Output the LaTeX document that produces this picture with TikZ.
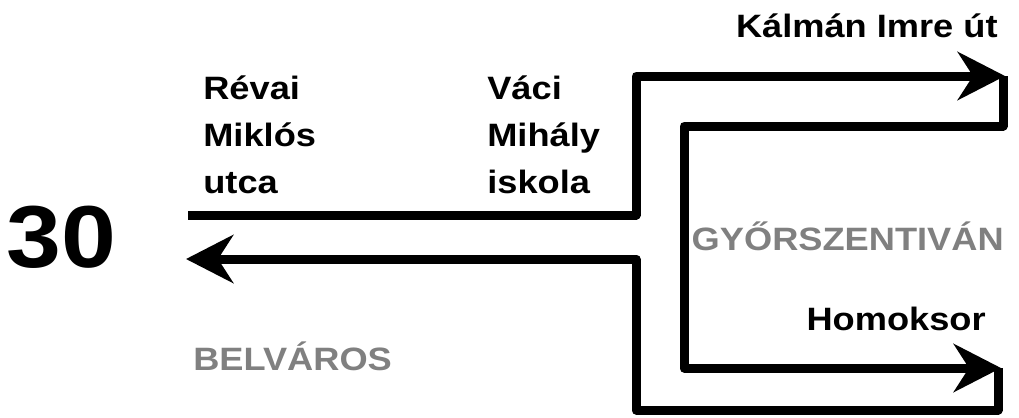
\documentclass[tikz,border=0pt]{standalone}
\usepackage{fontspec}
\setmainfont{Liberation Sans}
\usetikzlibrary{arrows.meta}
\definecolor{areagray}{HTML}{808080}

\begin{document}
\begin{tikzpicture}[x=0.025cm, y=-0.025cm,
routeline/.style={line width=0.225cm, line join=round, -{Stealth[length=1.18cm, width=1.2cm, inset=0.38cm]}},
stopname/.style={font=\bfseries\fontsize{23}{33.4}\selectfont, inner sep=0pt, align=left, transform shape, xscale=1.12},
areaname/.style={stopname, text=areagray},
]
\useasboundingbox (0,0) rectangle (1019,417);
%Nodes
\node[stopname, font=\bfseries\fontsize{62.6}{70}\selectfont, anchor=base west] (line) at (6,267) {30};
\node[stopname, anchor=base west] (revai)  at (203,193) {Révai\\Miklós\\utca};
\node[stopname, anchor=base west] (vaci)   at (487,193) {Váci\\Mihály\\iskola};
\node[stopname, anchor=base east] (kalman) at (998,37)  {Kálmán Imre út};
\node[areaname, anchor=base east] (gyor)   at (1004,250) {GYŐRSZENTIVÁN};
\node[stopname, anchor=base east] (homok)  at (986,330) {Homoksor};
\node[areaname, anchor=base west] (belv)   at (193,370) {BELVÁROS};
%Coordinates
\coordinate (start)   at (188,215);
\coordinate (upcorner) at (636,76);
\coordinate (kalmanend) at (1005,76);
\coordinate (turnup)  at (1003,126);
\coordinate (turnin)  at (684,368);
\coordinate (homokend) at (1001,368);
\coordinate (turndown) at (998,410);
\coordinate (backcorner) at (636,259);
\coordinate (belvend) at (186,259);
%Lines
\draw[routeline] (start) -| (upcorner) -- (kalmanend);
\draw[routeline] (turnup |- kalmanend) -- (turnup) -| (turnin) -- (homokend);
\draw[routeline] (turndown |- homokend) -- (turndown) -| (backcorner) -- (belvend);
\end{tikzpicture}
\end{document}
